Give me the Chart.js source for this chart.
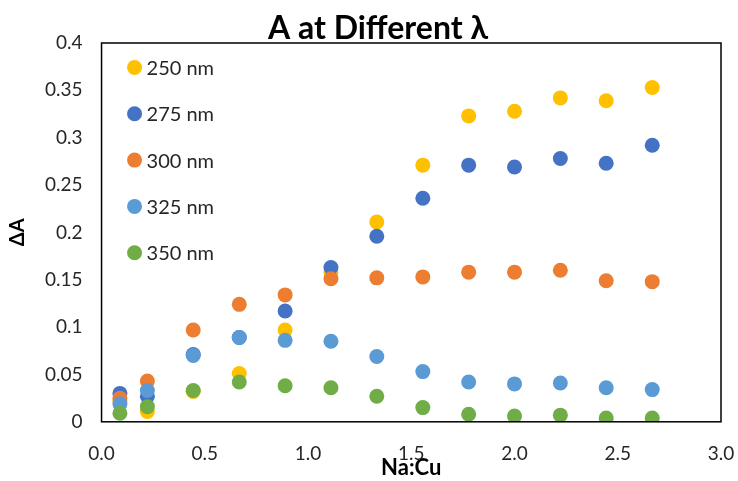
<!DOCTYPE html>
<html>
<head>
<meta charset="utf-8">
<script src="https://cdn.jsdelivr.net/npm/chart.js@4/dist/chart.umd.min.js"></script>
<style>
  html, body { margin: 0; padding: 0; background: #fff; }
  #wrap { width: 738px; height: 481px; }
</style>
</head>
<body>
<div id="wrap"><canvas id="myChart" width="738" height="481"></canvas></div>
<script>
// Na:Cu ratios
const ratios = [0.089, 0.222, 0.444, 0.667, 0.889, 1.111, 1.333, 1.556, 1.778, 2.0, 2.222, 2.444, 2.667];

// delta A per wavelength
const a250 = [0.022, 0.011, 0.032, 0.051, 0.097, 0.158, 0.211, 0.271, 0.323, 0.328, 0.342, 0.339, 0.353];
const a275 = [0.030, 0.027, 0.071, 0.089, 0.117, 0.163, 0.196, 0.236, 0.271, 0.269, 0.278, 0.273, 0.292];
const a300 = [0.025, 0.043, 0.097, 0.124, 0.134, 0.151, 0.152, 0.153, 0.158, 0.158, 0.160, 0.149, 0.148];
const a325 = [0.019, 0.033, 0.070, 0.089, 0.086, 0.085, 0.069, 0.053, 0.042, 0.040, 0.041, 0.036, 0.034];
const a350 = [0.009, 0.016, 0.033, 0.042, 0.038, 0.036, 0.027, 0.015, 0.008, 0.006, 0.007, 0.004, 0.004];

const seriesNames = ['250 nm', '275 nm', '300 nm', '325 nm', '350 nm'];
const seriesColors = ['#FFC000', '#4472C4', '#ED7D31', '#5B9BD5', '#70AD47'];

const chartTitle = 'A at Different λ';

function toPoints(vals) {
  return vals.map((v, i) => ({ x: ratios[i], y: v }));
}

const allSeries = [a250, a275, a300, a325, a350];
const datasets = allSeries.map((vals, i) => ({
  label: seriesNames[i],
  data: toPoints(vals),
  backgroundColor: seriesColors[i],
  borderColor: seriesColors[i],
  pointRadius: 7.5,
  pointHoverRadius: 7.5,
  borderWidth: 0,
  order: allSeries.length - i   // later series on top
}));

const font = "Lato, 'Open Sans', sans-serif";

// plot frame, title and the in-plot legend
const decor = {
  id: 'decor',
  afterDatasetsDraw(chart) {
    const { ctx, chartArea: a } = chart;
    ctx.save();
    ctx.strokeStyle = '#000';
    ctx.lineWidth = 1.5;
    ctx.strokeRect(a.left, a.top, a.right - a.left, a.bottom - a.top);

    ctx.fillStyle = '#000';
    ctx.font = 'bold 32px ' + font;
    ctx.textAlign = 'center';
    ctx.textBaseline = 'alphabetic';
    ctx.fillText(chartTitle, 378, 39);

    ctx.font = '20px ' + font;
    ctx.textAlign = 'left';
    ctx.textBaseline = 'middle';
    chart.data.datasets.forEach((ds, i) => {
      const y = a.top + 24.5 + i * 46.3;
      ctx.beginPath();
      ctx.arc(a.left + 33, y, 7.5, 0, Math.PI * 2);
      ctx.fillStyle = ds.backgroundColor;
      ctx.fill();
      ctx.fillStyle = '#262626';
      ctx.fillText(ds.label, a.left + 45, y + 1);
    });
    ctx.restore();
  }
};

new Chart(document.getElementById('myChart'), {
  type: 'scatter',
  data: { datasets },
  plugins: [decor],
  options: {
    responsive: false,
    animation: false,
    layout: { padding: { left: 6, right: 0, top: 43, bottom: 0 } },
    plugins: {
      title: { display: false },
      legend: { display: false },
      tooltip: { enabled: false }
    },
    scales: {
      x: {
        type: 'linear',
        min: 0,
        max: 3,
        grid: { display: false, drawTicks: false },
        border: { display: false },
        // the tall tick padding should not also widen the right margin
        afterFit: scale => { scale.paddingRight = 17; },
        ticks: {
          stepSize: 0.5,
          padding: 21,
          color: '#262626',
          font: { family: font, size: 19 },
          callback: v => v.toFixed(1)
        },
        title: {
          display: true,
          text: 'Na:Cu',
          color: '#000',
          font: { family: font, size: 22, weight: 'bold' },
          padding: { top: -32, bottom: 0 }
        }
      },
      y: {
        min: 0,
        max: 0.4,
        grid: { display: false, drawTicks: false },
        border: { display: false },
        ticks: {
          stepSize: 0.05,
          padding: 19,
          color: '#262626',
          font: { family: font, size: 19 },
          callback: v => String(parseFloat(v.toFixed(2)))
        },
        title: {
          display: true,
          text: 'ΔA',
          color: '#000',
          font: { family: font, size: 20, weight: 'bold' },
          padding: { top: 0, bottom: -4 }
        }
      }
    }
  }
});
</script>
</body>
</html>
